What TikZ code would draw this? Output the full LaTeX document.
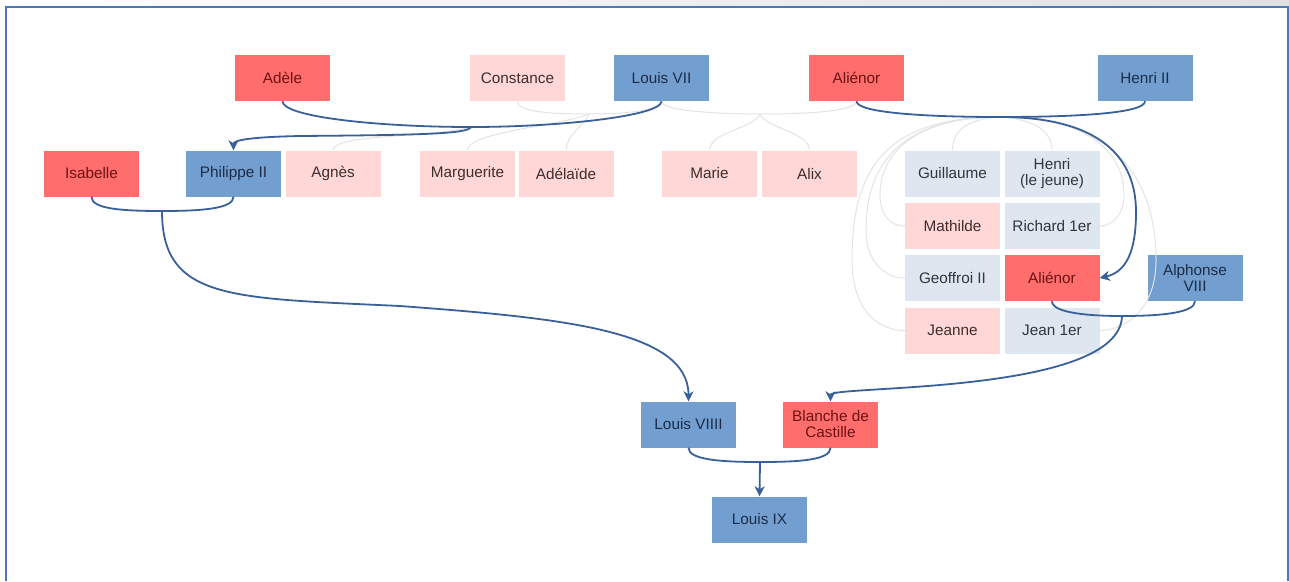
\documentclass[tikz,border=0pt]{standalone}
\usepackage{fontspec}
\setmainfont{Liberation Sans}
\usetikzlibrary{arrows.meta}
\definecolor{redbox}{HTML}{FF6D6D}
\definecolor{bluebox}{HTML}{729FCF}
\definecolor{pinkbox}{HTML}{FFD7D7}
\definecolor{paleblue}{HTML}{DEE6EF}
\definecolor{linkblue}{HTML}{3A6099}
\definecolor{faintc}{HTML}{E4E4E4}
\definecolor{framec}{HTML}{4A78BC}
\definecolor{redtext}{HTML}{6B1212}
\definecolor{bluetext}{HTML}{1C2C48}
\definecolor{pinktext}{HTML}{3E2E2E}
\definecolor{paletext}{HTML}{30363F}
\tikzset{
  person/.style={minimum width=95pt, minimum height=46pt, inner sep=0pt, align=center,
    font=\fontsize{15.3}{16}\selectfont},
  redp/.style={person, fill=redbox, text=redtext},
  bluep/.style={person, fill=bluebox, text=bluetext},
  pinkp/.style={person, fill=pinkbox, text=pinktext},
  palep/.style={person, fill=paleblue, text=paletext},
  link/.style={draw=linkblue, line width=1.8pt},
  child/.style={link, -{Stealth[length=10pt,width=10pt,inset=3pt]}},
  faint/.style={draw=faintc, line width=1pt},
}
\begin{document}
\begin{tikzpicture}[x=1pt,y=-1pt]
\useasboundingbox (0,0) rectangle (1289,581);
\fill[white] (0,0) rectangle (1289,581);
\shade[left color=white, right color=black!12] (0,0) rectangle (1289,6);

% nodes
\node[redp]  (adele)     at (282.5,78)  {Adèle};
\node[pinkp] (constance) at (517.5,78)  {Constance};
\node[bluep] (louis7)    at (661.5,78)  {Louis VII};
\node[redp]  (alienor)   at (856.5,78)  {Aliénor};
\node[bluep] (henri2)    at (1145,78)   {Henri II};

\node[redp]  (isabelle)   at (91.5,173.5)  {Isabelle};
\node[bluep] (philippe)   at (233.5,173.5) {Philippe II};
\node[pinkp] (agnes)      at (333,173.5)   {Agnès};
\node[pinkp] (marguerite) at (467.5,173.5) {Marguerite};
\node[pinkp] (adelaide)   at (566,173.5)   {Adélaïde};
\node[pinkp] (marie)      at (709.5,173.5) {Marie};
\node[pinkp] (alix)       at (809.5,173.5) {Alix};
\node[palep] (guillaume)  at (952.5,173.5) {Guillaume};
\node[palep] (henrij)     at (1052,173.5)  {Henri\\(le jeune)};

\node[pinkp] (mathilde)   at (952.5,226)   {Mathilde};
\node[palep] (richard)    at (1052,226)    {Richard 1er};

\node[palep] (geoffroi)   at (952.5,278)   {Geoffroi II};
\node[redp]  (alienor2)   at (1052,278)    {Aliénor};
\node[bluep] (alphonse)   at (1195,278)    {Alphonse\\VIII};

\node[pinkp] (jeanne)     at (952.5,330.5) {Jeanne};
\node[palep] (jean)       at (1052,330.5)  {Jean 1er};

\node[bluep] (lviii)      at (688.5,424.5) {Louis VIIII};
\node[redp]  (blanche)    at (830.5,424.5) {Blanche de\\Castille};
\node[bluep] (louis9)     at (759.5,519.5) {Louis IX};

% junction points
\coordinate (m1) at (471,127);
\coordinate (m2) at (1000,117);
\coordinate (m3) at (162,211);
\coordinate (m4) at (1122,316);
\coordinate (m5) at (760,462);
\coordinate (f1) at (589,114);
\coordinate (f2) at (760,114);
\coordinate (c1) at (300,136);
\coordinate (c3) at (400,306);
\coordinate (cm) at (880,195);
\coordinate (cg) at (866,230);
\coordinate (cj) at (852,260);
\coordinate (cr) at (1124,195);
\coordinate (cn) at (1156,260);
\coordinate (ca) at (1136,212);

% faint family lines
\path[faint] (constance.south) .. controls +(0,12) and (560,114) .. (f1)
  .. controls (615,114) and (661.5,112) .. (louis7.south);
\path[faint] (f1) .. controls (585,125) and (566,135) .. (adelaide.north);
\path[faint] (f1) .. controls (560,126) and (467.5,132) .. (marguerite.north);
\path[faint] (m1) .. controls (430,138) and (333,134) .. (agnes.north);
\path[faint] (louis7.south) .. controls +(0,10) and (720,114) .. (f2)
  .. controls (800,114) and (856.5,112) .. (alienor.south);
\path[faint] (f2) .. controls (755,128) and (709.5,132) .. (marie.north);
\path[faint] (f2) .. controls (765,128) and (809.5,132) .. (alix.north);
\path[faint] (m2) .. controls (965,119) and (952.5,132) .. (guillaume.north);
\path[faint] (m2) .. controls (1035,119) and (1052,132) .. (henrij.north);
\path[faint] (m2) .. controls (920,117) and (880,150) .. (cm)
  .. controls (880,215) and (890,226) .. (mathilde.west);
\path[faint] (m2) .. controls (900,117) and (866,165) .. (cg)
  .. controls (866,262) and (885,278) .. (geoffroi.west);
\path[faint] (m2) .. controls (880,117) and (852,175) .. (cj)
  .. controls (852,310) and (878,330.5) .. (jeanne.west);
\path[faint] (m2) .. controls (1085,117) and (1124,150) .. (cr)
  .. controls (1124,215) and (1112,226) .. (richard.east);
\path[faint] (m2) .. controls (1115,117) and (1156,180) .. (cn)
  .. controls (1156,310) and (1125,330.5) .. (jean.east);

% marriages and descent
\path[link] (adele.south) .. controls +(0,16) and (380,127) .. (m1)
  .. controls (560,127) and (661.5,116) .. (louis7.south);
\path[child] (m1) .. controls (468,134) and (420,135) .. (c1)
  .. controls (252,137) and (233.5,140) .. (philippe.north);

\path[link] (alienor.south) .. controls +(0,12) and (930,117) .. (m2)
  .. controls (1080,117) and (1145,113) .. (henri2.south);
\path[child] (m2) .. controls (1090,117) and (1136,150) .. (ca)
  .. controls (1136,252) and (1126,272) .. (alienor2.east);

\path[link] (isabelle.south) .. controls +(0,12) and (120,211) .. (m3)
  .. controls (200,211) and (233.5,209) .. (philippe.south);
\path[child] (m3) .. controls (162,300) and (230,298) .. (c3)
  .. controls (560,318) and (688.5,330) .. (lviii.north);

\path[link] (alienor2.south) .. controls +(0,12) and (1090,316) .. (m4)
  .. controls (1160,316) and (1195,313) .. (alphonse.south);
\path[child] (m4) .. controls (1120,395) and (830.5,385) .. (blanche.north);

\path[link] (lviii.south) .. controls +(0,12) and (720,462) .. (m5)
  .. controls (800,462) and (830.5,460) .. (blanche.south);
\path[child] (m5) -- (louis9.north);

% frame
\draw[framec, line width=2pt] (5.5,581) -- (5.5,7) -- (1287.5,7) -- (1287.5,581);
\end{tikzpicture}
\end{document}
